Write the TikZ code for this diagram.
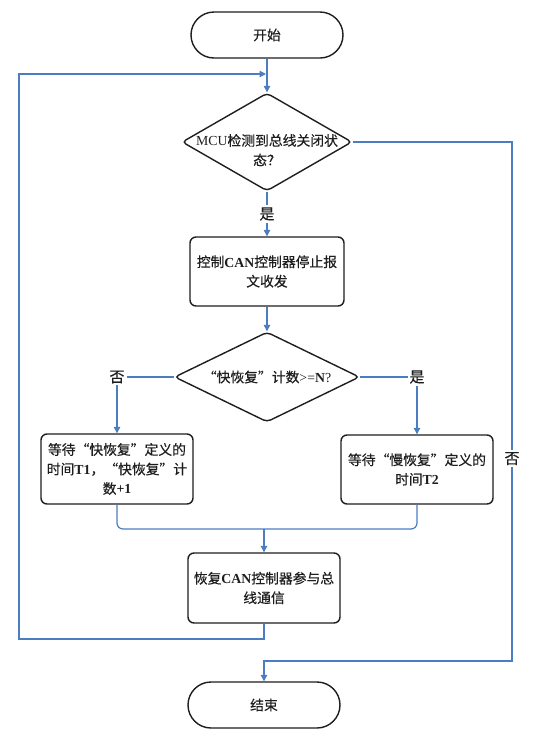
\documentclass[tikz,border=0pt]{standalone}
\usepackage{fontspec}
\setmainfont{Noto Sans CJK SC}[RawFeature=+fwid, FakeBold=0.35]
\newfontfamily\lat{Liberation Serif}
\usetikzlibrary{shapes.geometric,arrows.meta}
\definecolor{lineblue}{RGB}{74,126,193}
\definecolor{ink}{RGB}{30,30,30}
\newcommand\LB[1]{{\lat\bfseries #1}}
\begin{document}
\begin{tikzpicture}[x=1pt,y=-1pt,
  txt/.style={font=\fontsize{13.8}{19.5}\selectfont, text=ink, align=center},
  box/.style={txt, draw=ink, line width=1.4pt, rounded corners=6pt, minimum width=152pt, minimum height=70pt, inner sep=0pt},
  term/.style={txt, draw=ink, line width=1.4pt, rounded corners=23pt, minimum width=152pt, minimum height=46pt, inner sep=0pt},
  dec/.style={draw=ink, line width=1.4pt, diamond, rounded corners=4pt, inner sep=0pt},
  dlabel/.style={txt, inner sep=0pt},
  conn/.style={draw=lineblue, line width=1.2pt},
  arr/.style={conn, -{Triangle[length=6.5pt,width=6.5pt]}},
  lbl/.style={fill=white, inner sep=2pt, font=\fontsize{15}{17}\selectfont, text=ink}
]
\fill[white] (0,0) rectangle (548,740);
\useasboundingbox (0,0) rectangle (548,740);

\node[term] (start) at (267,35) {开始};
\node[dec, minimum width=170pt, minimum height=98pt,
  label={[dlabel, yshift=-8pt]center:{\lat MCU}检测到总线关闭状\\态？}] (d1) at (267,142) {};
\node[box, minimum width=154pt, minimum height=69pt] (box2) at (267,271.5) {控制\LB{CAN}控制器停止报\\文收发};
\node[dec, minimum width=185pt, minimum height=90pt,
  label={[dlabel]center:“快恢复”计数{\lat >=\textbf{N}?}}] (d2) at (267,377) {};
\node[box] (b3) at (117,469) {等待“快恢复”定义的\\时间\LB{T1}，“快恢复”计\\数\LB{+1}};
\node[box, minimum height=69pt] (b4) at (417,469.5) {等待“慢恢复”定义的\\时间\LB{T2}};
\node[box] (box5) at (264,588) {恢复\LB{CAN}控制器参与总\\线通信};
\node[term] (end) at (264,705) {结束};

\coordinate (m) at (264,529);
\coordinate (loopB) at (264,639);
\coordinate (loopL) at (19,639);
\coordinate (loopT) at (19,74);
\coordinate (loopIn) at (266,74);
\coordinate (rT) at (512,142);
\coordinate (rB) at (512,661);
\coordinate (eT) at (264,661);

\draw[arr] (start.south) -- (d1.north);
\draw[arr] (d1.south) -- node[lbl]{是} (box2.north);
\draw[arr] (box2.south) -- (d2.north);
\draw[arr] (d2.west) -| node[lbl, pos=0.5]{否} (b3.north);
\draw[arr] (d2.east) -| node[lbl, pos=0.5]{是} (b4.north);
\draw[conn, rounded corners=6pt] (b3.south) |- (m) -| (b4.south);
\draw[arr] (m) -- (box5.north);
\draw[arr] (box5.south) -- (loopB) -- (loopL) -- (loopT) -- (loopIn);
\draw[arr] (d1.east) -- (rT) -- node[lbl, pos=0.61]{否} (rB) -- (eT) -- (end.north);
\end{tikzpicture}
\end{document}
